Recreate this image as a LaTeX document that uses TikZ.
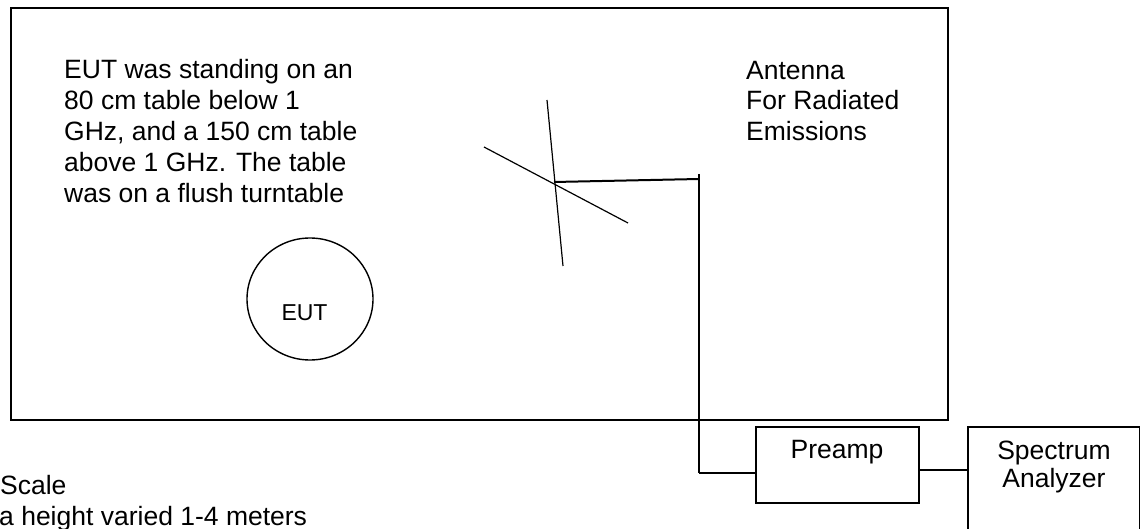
\documentclass[tikz,border=0pt]{standalone}
\usepackage{fontspec}
\setmainfont{Liberation Sans}
\usetikzlibrary{shapes.geometric}
\begin{document}
\begin{tikzpicture}[x=1pt,y=-1pt,
  txt/.style={font=\fontsize{26.5}{31}\selectfont, inner sep=0pt, anchor=base west},
  ctxt/.style={font=\fontsize{26.5}{31}\selectfont, inner sep=0pt, anchor=base},
  boxnode/.style={draw, line width=1.3pt, inner sep=0pt},
  element/.style={line width=1.2pt},
  feed/.style={line width=2pt},
  cable/.style={line width=1.4pt}]
\useasboundingbox (0,0) rectangle (1141,529);
% chamber
\node[boxnode, line width=1.5pt, minimum width=937pt, minimum height=412pt] (room) at (479.5,214) {};
% description text
\foreach \t [count=\i from 0] in {EUT was standing on an, 80 cm table below 1, {GHz, and a 150 cm table}, above 1 GHz. The table, was on a flush turntable}
  \node[txt] (d\i) at (64,79+31*\i) {\t};
\foreach \t [count=\i from 0] in {Antenna, For Radiated, Emissions}
  \node[txt] (an\i) at (746,79.5+30.5*\i) {\t};
% EUT
\node[draw, ellipse, line width=1.4pt, minimum width=126pt, minimum height=122pt, inner sep=0pt] (eut) at (310,299) {};
\node[font=\fontsize{23}{27}\selectfont, inner sep=0pt, anchor=base] (eutl) at (304.5,320.5) {EUT};
% antenna
\coordinate (a1) at (484,147);
\coordinate (a2) at (628,223);
\coordinate (b1) at (547,100);
\coordinate (b2) at (563,266);
\coordinate (x) at (554,182);
\coordinate (f0) at (699,174);
\coordinate (f1) at (699,179);
\coordinate (f2) at (699,473);
\draw[element] (a1) -- (a2);
\draw[element] (b1) -- (b2);
\draw[feed] (x) -- (f1);
\draw[line width=2.5pt] (f0) -- (f2);
% preamp and analyzer
\node[boxnode, minimum width=163pt, minimum height=76pt] (pa) at (837.5,465) {};
\node[ctxt] (pal) at (837,458) {Preamp};
\node[boxnode, minimum width=171.5pt, minimum height=108pt] (sa) at (1053.75,481) {};
\node[ctxt] (sal1) at (1054,459.5) {Spectrum};
\node[ctxt] (sal2) at (1054,487.5) {Analyzer};
\coordinate (j) at (0,470);
\draw[cable] (f2) -- (pa.west |- f2);
\draw[cable] (pa.east |- j) -- (sa.west |- j);
% notes
\node[txt] (n1) at (0,494) {Scale};
\node[txt] (n2) at (-1,525) {a height varied 1-4 meters};
\end{tikzpicture}
\end{document}
